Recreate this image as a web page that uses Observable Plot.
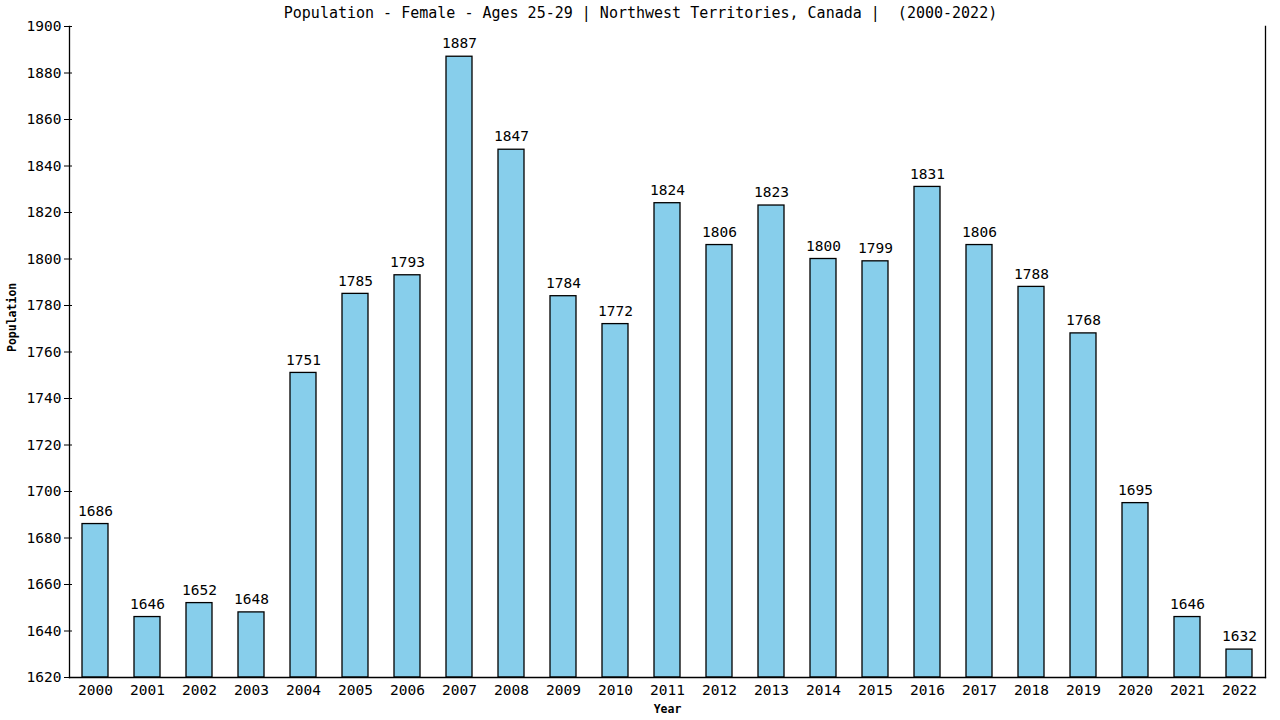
<!DOCTYPE html>
<html><head><meta charset="utf-8">
<script src="https://cdn.jsdelivr.net/npm/d3@7"></script>
<script src="https://cdn.jsdelivr.net/npm/@observablehq/plot@0.6"></script>
<style>body{margin:0;background:#fff}</style>
</head><body><div id="chart"></div>
<script>
const years = ["2000","2001","2002","2003","2004","2005","2006","2007","2008","2009","2010","2011","2012","2013","2014","2015","2016","2017","2018","2019","2020","2021","2022"];
const population = [1686,1646,1652,1648,1751,1785,1793,1887,1847,1784,1772,1824,1806,1823,1800,1799,1831,1806,1788,1768,1695,1646,1632];
const yTicks = [1620,1640,1660,1680,1700,1720,1740,1760,1780,1800,1820,1840,1860,1880,1900];
const title = "Population - Female - Ages 25-29 | Northwest Territories, Canada |  (2000-2022)";
const data = years.map((y,i)=>({year:y, value:population[i]}));
const font = "DejaVu Sans Mono";
const chart = Plot.plot({
  width:1280, height:720,
  marginLeft:69, marginRight:15, marginTop:26, marginBottom:43,
  style:{fontFamily:font, fontSize:"14.5px", color:"#000", background:"#fff"},
  x:{domain:years, paddingInner:0.5, paddingOuter:0.25},
  y:{domain:[1620,1900]},
  marks:[
    Plot.barY(data,{x:"year", y1:1620, y2:"value", fill:"#87CEEB", stroke:"#000", strokeWidth:1.3}),
    Plot.text(data,{x:"year", y:"value", text:d=>String(d.value), dy:-13, fontSize:14.5, fill:"#000"}),
    Plot.frame({anchor:"left", stroke:"#000", strokeWidth:1.3}),
    Plot.frame({anchor:"right", stroke:"#000", strokeWidth:1.3}),
    Plot.frame({anchor:"bottom", stroke:"#000", strokeWidth:1.3}),
    Plot.axisY({ticks:yTicks, tickFormat:"d", tickSize:5, tickPadding:3, label:null, fontSize:14.5}),
    Plot.axisY({ticks:yTicks, tickSize:-3, text:null, label:null}),
    Plot.axisX({tickSize:0, tickPadding:7, label:null, fontSize:14.5}),
    Plot.text([title],{frameAnchor:"top", lineAnchor:"middle", dy:-13, dx:-27, text:d=>d, fontSize:15, fill:"#000"}),
    Plot.text(["Year"],{frameAnchor:"bottom", lineAnchor:"middle", dy:32, text:d=>d, fontSize:11.5, fontWeight:"bold", fill:"#000"}),
    Plot.text(["Population"],{frameAnchor:"left", dx:-57, rotate:-90, text:d=>d, fontSize:11.5, fontWeight:"bold", fill:"#000"})
  ]
});
document.getElementById("chart").appendChild(chart);
</script></body></html>
